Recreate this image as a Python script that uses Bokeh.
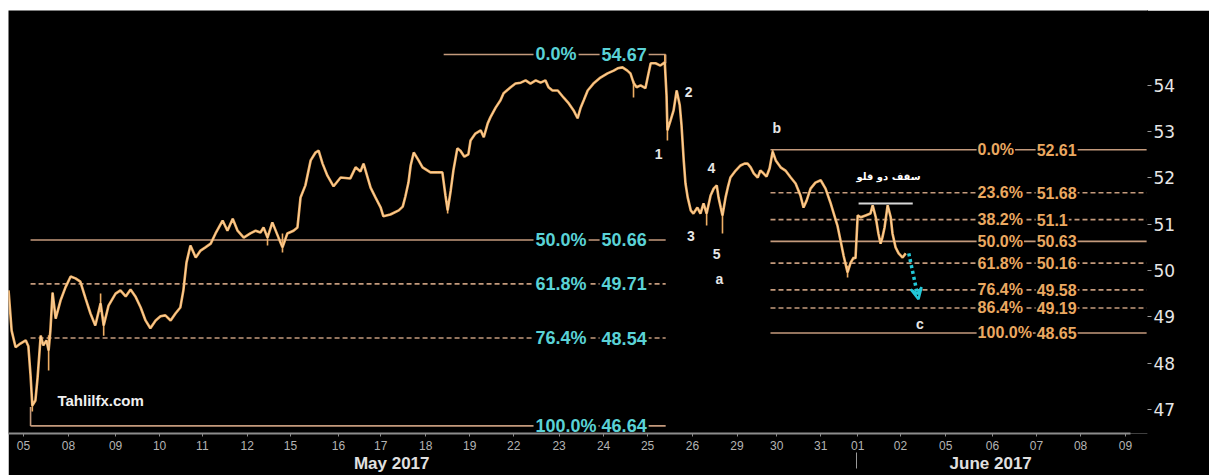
from bokeh.plotting import figure
from bokeh.models import Range1d, FixedTicker, LinearAxis, Arrow, VeeHead
from bokeh.core.properties import value
from bokeh.embed import file_html
from bokeh.resources import INLINE

# ---------------- data ----------------
# trading-day index (0 = 05 May 2017) and price
t = [-0.34, -0.27, -0.18, -0.07, 0.05, 0.11, 0.16, 0.20, 0.27, 0.32, 0.39, 0.45, 0.52, 0.57, 0.61, 0.66, 0.73,
     0.84, 0.95, 1.07, 1.18, 1.29, 1.41, 1.52, 1.63, 1.75, 1.82, 1.93, 2.09, 2.20, 2.32, 2.43, 2.54, 2.66, 2.77,
     2.88, 3.00, 3.11, 3.22, 3.34, 3.45, 3.56, 3.63, 3.70, 3.79, 3.91, 4.02, 4.13, 4.25, 4.36, 4.52, 4.63, 4.75,
     4.86, 5.00, 5.15, 5.27, 5.38, 5.45, 5.54, 5.65, 5.79, 5.88, 5.99, 6.13, 6.22, 6.29, 6.40, 6.52, 6.63, 6.70,
     6.79, 6.90, 7.04, 7.20, 7.42, 7.54, 7.65, 7.72, 7.88, 7.99, 8.11, 8.17, 8.33, 8.52, 8.61, 8.67, 8.74, 8.79,
     8.86, 8.97, 9.06, 9.24, 9.40, 9.51, 9.58, 9.63, 9.70, 9.76, 9.85, 9.92, 10.01, 10.10, 10.15, 10.26, 10.38,
     10.45, 10.54, 10.60, 10.72, 10.83, 10.90, 11.06, 11.17, 11.29, 11.40, 11.51, 11.63, 11.74, 11.85, 11.92,
     12.01, 12.13, 12.26, 12.38, 12.49, 12.58, 12.65, 12.72, 12.81, 12.94, 13.10, 13.26, 13.40, 13.49, 13.60,
     13.71, 13.78, 13.85, 13.92, 14.01, 14.12, 14.19, 14.24, 14.35, 14.46, 14.56, 14.60, 14.62, 14.69, 14.76,
     14.83, 14.90, 14.94, 14.99, 15.03, 15.08, 15.15, 15.21, 15.30, 15.37, 15.44, 15.51, 15.60, 15.67, 15.74,
     15.78, 15.83, 15.87, 15.94, 15.99, 16.05, 16.17, 16.28, 16.37, 16.44, 16.51, 16.58, 16.67, 16.73, 16.80,
     16.87, 16.94, 17.01, 17.08, 17.19, 17.30, 17.42, 17.53, 17.64, 17.71, 17.78, 17.87, 17.98, 18.10, 18.21,
     18.32, 18.39, 18.48, 18.55, 18.62, 18.71, 18.78, 18.85, 18.89, 18.94, 19.01, 19.12, 19.23, 19.28, 19.35,
     19.41, 19.46, 19.50, 19.55, 19.62, 19.69, 19.73, 19.80, 19.87, 19.96, 20.03]
price = [49.57, 48.70, 48.34, 48.42, 48.49, 48.36, 47.73, 47.08, 47.19, 47.69, 48.59, 48.38, 48.49, 48.27, 48.70,
         49.52, 48.96, 49.35, 49.63, 49.87, 49.83, 49.76, 49.39, 49.07, 48.81, 49.29, 48.81, 49.24, 49.50, 49.57,
         49.44, 49.59, 49.44, 49.20, 48.92, 48.75, 48.92, 49.01, 49.03, 48.92, 49.07, 49.20, 49.57, 50.17, 50.54,
         50.28, 50.43, 50.50, 50.58, 50.80, 51.08, 50.86, 51.12, 50.86, 50.71, 50.80, 50.86, 50.82, 50.93, 50.71,
         51.04, 50.71, 50.50, 50.80, 50.86, 50.93, 51.58, 51.84, 52.38, 52.55, 52.59, 52.31, 52.05, 51.82, 52.01,
         51.99, 52.23, 52.14, 52.31, 51.79, 51.58, 51.36, 51.17, 51.21, 51.30, 51.38, 51.60, 51.90, 52.27, 52.55,
         52.38, 52.23, 52.12, 52.12, 52.12, 51.62, 51.30, 51.73, 52.16, 52.64, 52.59, 52.46, 52.51, 52.81, 52.96,
         53.03, 52.88, 53.18, 53.31, 53.52, 53.68, 53.83, 53.96, 54.04, 54.06, 54.11, 54.04, 54.11, 54.06, 54.11,
         53.96, 53.89, 53.89, 53.74, 53.61, 53.46, 53.29, 53.52, 53.68, 53.89, 54.04, 54.17, 54.26, 54.32, 54.37,
         54.39, 54.32, 54.26, 54.06, 53.96, 54.00, 53.94, 54.26, 54.48, 54.48, 54.43, 54.50, 53.78, 53.03, 53.24,
         53.46, 53.89, 53.57, 53.14, 52.38, 51.88, 51.58, 51.30, 51.23, 51.36, 51.23, 51.45, 51.23, 51.62, 51.77,
         51.84, 51.58, 51.36, 51.19, 51.58, 51.79, 52.01, 52.16, 52.27, 52.31, 52.31, 52.23, 52.10, 52.01, 52.16,
         52.10, 52.03, 52.21, 52.57, 52.38, 52.23, 52.16, 52.01, 51.88, 51.62, 51.36, 51.51, 51.77, 51.90, 51.95,
         51.77, 51.47, 51.25, 50.97, 50.65, 50.32, 49.96, 50.17, 50.28, 50.26, 51.19, 51.15, 51.19, 51.23, 51.41,
         51.15, 50.80, 50.58, 50.71, 50.93, 51.41, 51.15, 50.80, 50.50, 50.37, 50.28, 50.37]

# intraday spikes (wicks)
spike_t = [0.20, 0.57, 1.75, 1.82, 5.54, 5.88, 9.63, 13.85, 14.56, 14.62, 15.51, 15.87, 17.01, 18.71]
spike_lo = [46.95, 47.84, 49.10, 48.59, 50.54, 50.39, 51.23, 53.74, 54.40, 52.81, 50.97, 50.80, 52.45, 49.85]
spike_hi = [47.20, 48.60, 49.50, 49.00, 50.80, 50.80, 51.50, 54.10, 54.67, 53.20, 51.30, 51.30, 52.61, 50.10]

# Fibonacci retracement 1 (46.64 -> 54.67)
fib1_pct = ["0.0%", "50.0%", "61.8%", "76.4%", "100.0%"]
fib1_val = [54.67, 50.66, 49.71, 48.54, 46.64]
fib1_dashed = [False, False, True, True, False]
# Fibonacci retracement 2 (52.61 -> 48.65)
fib2_pct = ["0.0%", "23.6%", "38.2%", "50.0%", "61.8%", "76.4%", "86.4%", "100.0%"]
fib2_val = [52.61, 51.68, 51.1, 50.63, 50.16, 49.58, 49.19, 48.65]
fib2_dashed = [False, True, True, False, True, True, True, False]

# wave labels
wave_text = ["1", "2", "3", "4", "5", "a", "b", "c"]
wave_t = [14.42, 15.10, 15.15, 15.62, 15.74, 15.80, 17.10, 20.35]
wave_y = [52.51, 53.85, 50.74, 52.21, 50.35, 49.81, 53.07, 48.85]

# axis ticks
day_ticks = [0, 1.02, 2.09, 3.09, 4.06, 5.08, 6.06, 7.15, 8.11, 9.13, 10.13, 11.13, 12.16, 13.17, 14.17,
             15.19, 16.2, 17.1, 18.1, 18.94, 19.91, 20.94, 22.0, 23.0, 24.0, 25.02]
day_labels = ["05", "08", "09", "10", "11", "12", "15", "16", "17", "18", "19", "22", "23", "24", "25",
              "26", "29", "30", "31", "01", "02", "05", "06", "07", "08", "09"]
month_ticks = [8.36, 21.96]
month_labels = ["May 2017", "June 2017"]
month_sep = [18.92]
price_ticks = [47, 48, 49, 50, 51, 52, 53, 54]

double_top_level = 51.45

# ---------------- figure ----------------
p = figure(width=1201, height=465, output_backend="svg", toolbar_location=None,
           x_range=Range1d(-0.341, 25.52), y_range=Range1d(46.476, 55.62),
           y_axis_location="right",
           background_fill_color="black", border_fill_color="black",
           min_border_left=0, min_border_top=0, min_border_right=62, min_border_bottom=42,
           styles={"margin-left": "8px", "margin-top": "10px"})
p.outline_line_color = None
p.grid.visible = False

FIB_LINE = "#c49a7c"
CYAN = "#5ad2d6"
ORANGE = "#eaa860"

# fib set 1 lines
f1_x0 = 0.16
f1_x1 = 14.58
for pct, v, d in zip(fib1_pct, fib1_val, fib1_dashed):
    x0 = 9.54 if pct == "0.0%" else f1_x0
    p.segment(x0=[x0], y0=[v], x1=[f1_x1], y1=[v], line_color=FIB_LINE, line_width=1.6,
              line_dash="5 3" if d else "solid")
p.segment(x0=[f1_x1], y0=[fib1_val[0]], x1=[f1_x1], y1=[54.48], line_color=FIB_LINE, line_width=1.6)
p.segment(x0=[f1_x0], y0=[fib1_val[-1]], x1=[f1_x0], y1=[47.05], line_color=FIB_LINE, line_width=1.6)

# fib set 2 lines
f2_x0 = 16.96
f2_x1 = 25.50
for v, d in zip(fib2_val, fib2_dashed):
    p.segment(x0=[f2_x0], y0=[v], x1=[f2_x1], y1=[v], line_color=FIB_LINE, line_width=1.6,
              line_dash="5 3" if d else "solid")

# price
p.segment(x0=spike_t, y0=spike_lo, x1=spike_t, y1=spike_hi, line_color="#eeae64", line_width=1.6)
p.line(t, price, line_color="#eeae64", line_width=2.6)
p.line(t, price, line_color="#ffdcae", line_width=0.8)

# double top line
p.segment(x0=[18.96], y0=[double_top_level], x1=[20.19], y1=[double_top_level],
          line_color="#d8d8d8", line_width=2)

# fib labels
lbl_font = value("Liberation Sans")
p.text(x=[11.58] * len(fib1_pct), y=fib1_val, text=fib1_pct, text_color=CYAN, text_font=lbl_font,
       text_font_size="18px", text_font_style="bold", text_align="left", text_baseline="middle",
       background_fill_color="black", padding=2)
p.text(x=[13.08] * len(fib1_val), y=fib1_val, text=[f"{v:g}" for v in fib1_val], text_color=CYAN,
       text_font=lbl_font, text_font_size="18px", text_font_style="bold", text_align="left",
       text_baseline="middle", background_fill_color="black", padding=2)
p.text(x=[21.64] * len(fib2_pct), y=fib2_val, text=fib2_pct, text_color=ORANGE, text_font=lbl_font,
       text_font_size="16px", text_font_style="bold", text_align="left", text_baseline="middle",
       background_fill_color="black", padding=1)
p.text(x=[22.98] * len(fib2_val), y=fib2_val, text=[f"{v:g}" for v in fib2_val], text_color=ORANGE,
       text_font=lbl_font, text_font_size="16px", text_font_style="bold", text_align="left",
       text_baseline="middle", background_fill_color="black", padding=1)

# wave labels
p.text(x=wave_t, y=wave_y, text=wave_text, text_color="#e6e6e6", text_font=lbl_font,
       text_font_size="14px", text_font_style="bold", text_align="center", text_baseline="middle")

# double-top caption (Persian)
p.text(x=[19.64], y=[52.03], text=["سقف دو قلو"], text_color="#ffffff", text_font=value("DejaVu Sans"),
       text_font_size="10px", text_font_style="bold", text_align="center", text_baseline="middle")

# watermark
p.text(x=[0.77], y=[47.19], text=["Tahlilfx.com"], text_color="#f0f0f0", text_font=lbl_font,
       text_font_size="15px", text_font_style="bold", text_align="left", text_baseline="middle")

# projection arrow
p.add_layout(Arrow(end=VeeHead(size=11, line_color="#22c8d8", line_width=2.5, fill_color=None),
                   x_start=20.10, y_start=50.37, x_end=20.32, y_end=49.38,
                   line_color="#22c8d8", line_width=3.5, line_dash="3 3"))

# ---------------- axes ----------------
xa = p.xaxis[0]
xa.ticker = FixedTicker(ticks=day_ticks)
xa.major_label_overrides = dict(zip(day_ticks, day_labels))
xa.bounds = (-0.35, 25.14)
xa.axis_line_color = "#8c8c8c"
xa.axis_line_width = 2
xa.major_tick_line_color = "#8c8c8c"
xa.major_tick_in = 0
xa.major_tick_out = 3
xa.minor_tick_line_color = None
xa.major_label_standoff = 4
xa.major_label_text_color = "#b4b4b4"
xa.major_label_text_font = "Liberation Sans Narrow, Liberation Sans, sans-serif"
xa.major_label_text_font_size = "12px"

ma = LinearAxis(ticker=FixedTicker(ticks=month_ticks, minor_ticks=month_sep),
                major_label_overrides=dict(zip(month_ticks, month_labels)),
                axis_line_color=None, major_tick_line_color=None, major_tick_in=0, major_tick_out=0,
                minor_tick_in=0, minor_tick_out=16, minor_tick_line_color="#9a9a9a",
                major_label_standoff=-15, major_label_text_color="#e0e0e0",
                major_label_text_font="Liberation Sans", major_label_text_font_style="bold",
                major_label_text_font_size="17px")
p.add_layout(ma, "below")

ya = p.yaxis[0]
ya.ticker = FixedTicker(ticks=price_ticks)
ya.axis_line_color = "black"
ya.major_tick_line_color = "#9a9a9a"
ya.major_tick_in = 0
ya.major_tick_out = 4
ya.minor_tick_line_color = None
ya.major_label_standoff = 2
ya.major_label_text_color = "#e6e6e6"
ya.major_label_text_font = "DejaVu Sans"
ya.major_label_text_font_size = "17px"

open("out.html", "w").write(file_html(p, INLINE))
